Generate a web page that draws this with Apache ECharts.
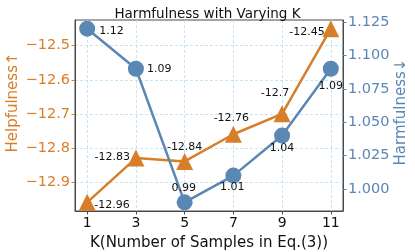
<!DOCTYPE html>
<html><head><meta charset="utf-8">
<script src="https://cdn.jsdelivr.net/npm/echarts@6/dist/echarts.min.js"></script>
<style>html,body{margin:0;padding:0;background:#fff}#c{width:415px;height:252px}</style>
</head><body><div id="c"></div>
<script>
const kValues = [1, 3, 5, 7, 9, 11];
const helpfulness = [-12.96, -12.83, -12.84, -12.76, -12.7, -12.45];
const harmfulness = [1.12, 1.09, 0.99, 1.01, 1.04, 1.09];
const xTicks = [1, 3, 5, 7, 9, 11];
const leftTicks = [-12.9, -12.8, -12.7, -12.6, -12.5];
const rightTicks = [1.000, 1.025, 1.050, 1.075, 1.100, 1.125];

// label placement (style only): [align, dx, dy]
const helpLabelPlace = [['left',7,3],['right',-6,-1],['center',0,-14],['center',-2,-16],['center',-7,-21],['right',-6,3]];
const harmLabelPlace = [['left',12,2],['left',11,0],['center',-1,-14],['center',-1,12],['center',0,12.5],['center',0,17]];

const ORANGE = '#D67F28', BLUE = '#5A87B4', SPINE = '#4a4a4a';
const FONT = 'DejaVu Sans';

function pad(lo, hi){ const r = hi - lo; return [lo - 0.05*r, hi + 0.05*r]; }
const xr = pad(Math.min(...kValues), Math.max(...kValues));
const lr = pad(Math.min(...helpfulness), Math.max(...helpfulness));
const rr = pad(Math.min(...harmfulness), Math.max(...harmfulness));

function items(vals, place){
  return vals.map((v,i)=>({
    value:[kValues[i], v],
    label:{show:true, position:'inside', align:place[i][0], verticalAlign:'middle', offset:[place[i][1], place[i][2]],
      formatter: String(v), color:'#111', fontSize:11, fontFamily:FONT}
  }));
}

const chart = echarts.init(document.getElementById('c'));
chart.setOption({
  animation:false,
  textStyle:{fontFamily:FONT},
  title:{text:'Harmfulness with Varying K', left:'center', top:2,
    textStyle:{fontFamily:FONT, fontSize:13.5, fontWeight:'normal', color:'#111'}},
  grid:{left:75, right:72, top:20, bottom:41, containLabel:false, outerBoundsMode:'none',
    show:true, borderColor:SPINE, borderWidth:1, backgroundColor:'transparent'},
  xAxis:{type:'value', min:xr[0], max:xr[1],
    name:'K(Number of Samples in Eq.(3))', nameLocation:'middle', nameGap:25,
    nameTextStyle:{fontFamily:FONT, fontSize:15, color:'#111'},
    axisLine:{show:true, onZero:false, lineStyle:{color:SPINE, width:1}},
    axisTick:{show:true, customValues:xTicks, length:3.5, lineStyle:{color:SPINE}},
    axisLabel:{customValues:xTicks, fontSize:14, color:'#111', margin:5, fontFamily:FONT},
    splitLine:{show:true, lineStyle:{color:'#b9dff0', type:[3,2], width:0.8}}
  },
  yAxis:[{type:'value', position:'left', min:lr[0], max:lr[1],
    name:'Helpfulness\u2191', nameLocation:'middle', nameGap:54, nameMoveOverlap:false,
    nameTextStyle:{fontFamily:FONT, fontSize:15, color:ORANGE, padding:[0,0,0,26]},
    axisLine:{show:true, onZero:false, lineStyle:{color:SPINE, width:1}},
    axisTick:{show:true, customValues:leftTicks, length:3.5, lineStyle:{color:ORANGE}},
    axisLabel:{customValues:leftTicks, fontSize:14.5, color:ORANGE, margin:5, fontFamily:FONT,
      formatter:v=>(v<0?'\u2212':'')+Math.abs(v).toFixed(1)},
    splitLine:{show:true, lineStyle:{color:'#b9dff0', type:[3,2], width:0.8}}
  },{type:'value', position:'right', min:rr[0], max:rr[1],
    name:'Harmfulness\u2193', nameLocation:'middle', nameGap:51, nameRotate:90, nameMoveOverlap:false,
    nameTextStyle:{fontFamily:FONT, fontSize:15, color:BLUE, padding:[0,0,0,7]},
    axisLine:{show:true, onZero:false, lineStyle:{color:SPINE, width:1}},
    axisTick:{show:true, customValues:rightTicks, length:3.5, lineStyle:{color:BLUE}},
    axisLabel:{customValues:rightTicks, fontSize:14.5, color:BLUE, margin:5, fontFamily:FONT,
      formatter:v=>v.toFixed(3)},
    splitLine:{show:false}
  }],
  series:[
    {type:'line', yAxisIndex:0, data:items(helpfulness, helpLabelPlace), symbol:'triangle', symbolSize:17,
      itemStyle:{color:ORANGE}, lineStyle:{color:ORANGE, width:2.5}, z:2},
    {type:'line', yAxisIndex:1, data:items(harmfulness, harmLabelPlace), symbol:'circle', symbolSize:16,
      itemStyle:{color:BLUE}, lineStyle:{color:BLUE, width:2.5}, z:3}
  ]
});
</script></body></html>
